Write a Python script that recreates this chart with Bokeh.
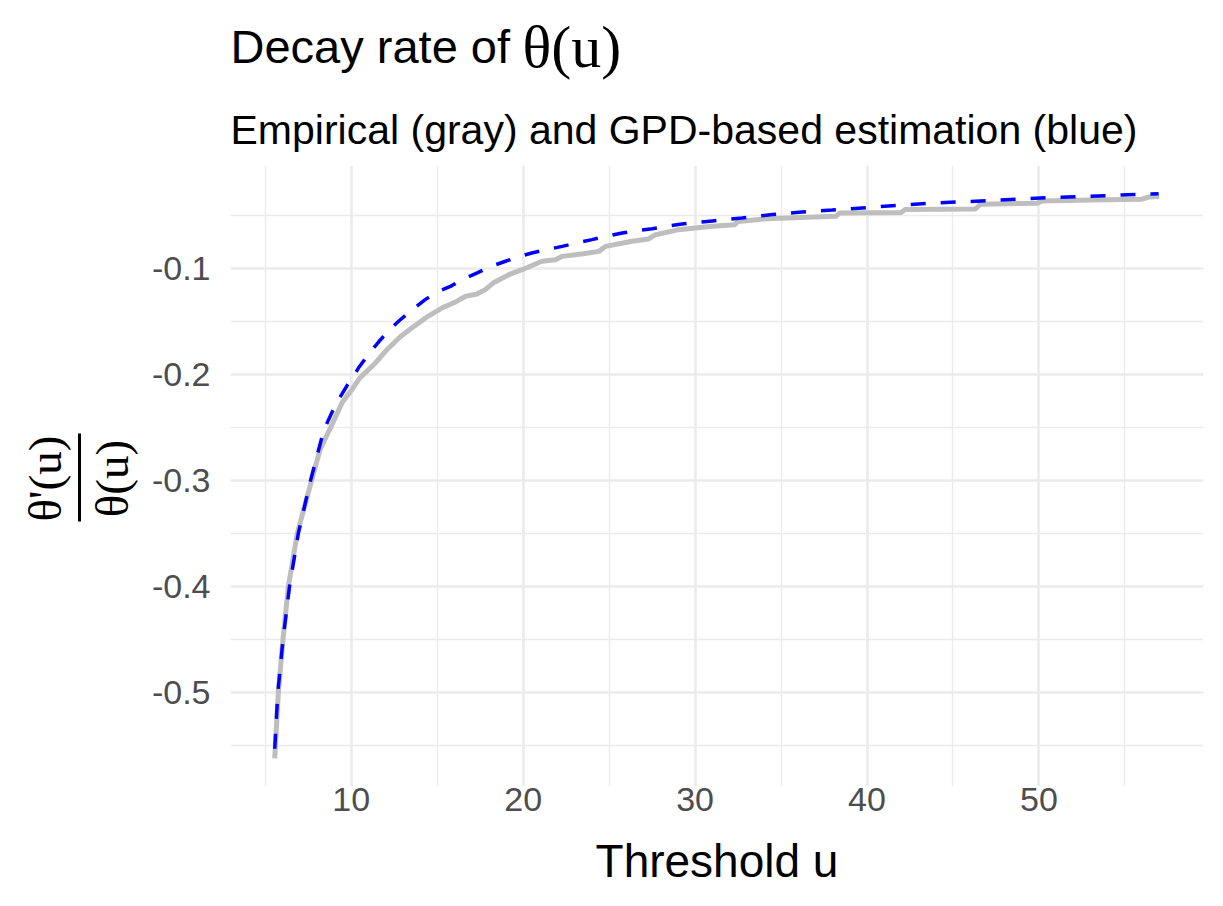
import numpy as np
from bokeh.plotting import figure
from bokeh.layouts import column, row
from bokeh.models import Range1d, FixedTicker, PrintfTickFormatter
from bokeh.core.properties import value
from bokeh.embed import file_html
from bokeh.resources import INLINE

# ---- data ----
gpd_u = [5.55, 5.73, 6.03, 6.41, 6.92, 7.63, 8.41, 9.1, 9.77, 10.15, 10.45, 11.0, 11.6,
         12.2, 12.87, 13.6, 14.32, 15.0, 15.77, 16.5, 17.33, 18.1, 18.97, 19.7, 20.5,
         21.4, 22.27, 23.1, 24.0, 24.9, 25.76, 26.6, 27.5, 28.4, 29.24, 31.0, 32.73,
         34.5, 36.2, 37.97, 40.5, 42.2, 43.97, 45.7, 47.46, 49.2, 50.95, 52.7, 54.4,
         56.96]
gpd_rate = [-0.553, -0.500, -0.450, -0.400, -0.350, -0.300, -0.252, -0.228, -0.210,
            -0.201, -0.193, -0.181, -0.169, -0.158, -0.148, -0.138, -0.129, -0.122,
            -0.1167, -0.110, -0.104, -0.098, -0.093, -0.089, -0.0852, -0.082, -0.079,
            -0.0758, -0.0726, -0.0693, -0.0663, -0.0642, -0.0623, -0.060, -0.0578,
            -0.0550, -0.0522, -0.0490, -0.0465, -0.0446, -0.0418, -0.0399, -0.0380,
            -0.0368, -0.0356, -0.0340, -0.0327, -0.0318, -0.0308, -0.0293]

emp_u = [5.55, 5.76, 6.03, 6.34, 6.86, 7.69, 8.2, 8.8, 9.48, 10.0, 10.5, 11.41, 12.1,
         12.87, 13.6, 14.32, 15.29, 16.0, 16.65, 17.3, 17.8, 18.3, 19.17, 19.94, 21.1,
         21.88, 22.27, 23.5, 24.4, 24.79, 26.34, 27.3, 27.7, 29.05, 30.0, 31.0, 32.3,
         32.5, 34.1, 38.2, 38.4, 42.0, 42.2, 46.3, 46.6, 49.9, 50.2, 53.0, 56.0, 56.4,
         57.0]
emp_rate = [-0.562, -0.500, -0.450, -0.400, -0.350, -0.300, -0.270, -0.250, -0.226,
            -0.215, -0.203, -0.189, -0.176, -0.164, -0.155, -0.1465, -0.137, -0.132,
            -0.126, -0.124, -0.1198, -0.113, -0.1057, -0.101, -0.093, -0.0915, -0.0884,
            -0.086, -0.0837, -0.079, -0.0742, -0.072, -0.068, -0.0632, -0.0616, -0.060,
            -0.0585, -0.0554, -0.053, -0.0506, -0.0474, -0.0469, -0.0443, -0.0437,
            -0.0392, -0.0382, -0.0362, -0.0352, -0.0344, -0.0324, -0.0320]

x_ticks = [10, 20, 30, 40, 50]
x_minor = [5, 15, 25, 35, 45, 55]
y_ticks = [-0.5, -0.4, -0.3, -0.2, -0.1]
y_minor = [-0.55, -0.45, -0.35, -0.25, -0.15, -0.05]

title_text = "Decay rate of"
title_math = "θ(u)"
subtitle_text = "Empirical (gray) and GPD-based estimation (blue)"
x_label = "Threshold u"
y_num = "θ'(u)"
y_den = "θ(u)"

# ---- page layout (pixels) ----
W, H = 1215, 898
TOP_H = 160          # header strip (title + subtitle)
LEFT_W = 140         # strip holding the y-axis fraction label
MAIN_W = W - LEFT_W
MAIN_H = H - TOP_H
FRAME_L, FRAME_R, FRAME_T, FRAME_B = 230, 1203, 165, 786


def blank(width, height, xr, yr):
    f = figure(width=width, height=height, output_backend="svg", toolbar_location=None,
               x_range=xr, y_range=yr, min_border=0)
    f.title = None
    f.axis.visible = False
    f.grid.visible = False
    f.outline_line_color = None
    return f


# header: title and subtitle
top = blank(W, TOP_H, Range1d(0, W), Range1d(TOP_H, 0))
top.text(x=[FRAME_L], y=[46], text=[title_text], text_font=value("Liberation Sans"),
         text_font_size="47px", text_color="black", text_align="left",
         text_baseline="alphabetic")
top.text(x=[522], y=[46], text=[title_math], text_font=value("Liberation Serif"),
         text_font_size="60px", text_color="black", text_align="left",
         text_baseline="alphabetic")
top.text(x=[FRAME_L], y=[129], text=[subtitle_text], text_font=value("Liberation Sans"),
         text_font_size="41px", text_color="black", text_align="left",
         text_baseline="alphabetic")

# left strip: rotated fraction theta'(u) / theta(u)
# (its frame is aligned with the main panel's frame, so its y range is the panel's pixel span)
left = blank(LEFT_W, MAIN_H, Range1d(0, LEFT_W), Range1d(FRAME_B, FRAME_T))
left.text(x=[44], y=[478], text=[y_num], angle=np.pi / 2,
          text_font=value("Liberation Serif"), text_font_size="47px",
          text_color="black", text_align="center", text_baseline="middle")
left.text(x=[111], y=[478], text=[y_den], angle=np.pi / 2,
          text_font=value("Liberation Serif"), text_font_size="47px",
          text_color="black", text_align="center", text_baseline="middle")
left.segment(x0=[79], y0=[433], x1=[79], y1=[521], line_color="black", line_width=3)

# main panel
all_u = gpd_u + emp_u
all_r = gpd_rate + emp_rate
xpad = 0.05 * (max(all_u) - min(all_u))
ypad = 0.05 * (max(all_r) - min(all_r))

p = figure(width=MAIN_W, height=MAIN_H, output_backend="svg", toolbar_location=None,
           x_range=Range1d(min(all_u) - xpad, max(all_u) + xpad),
           y_range=Range1d(min(all_r) - ypad, max(all_r) + ypad),
           min_border_left=FRAME_L - LEFT_W, min_border_right=W - FRAME_R,
           min_border_top=FRAME_T - TOP_H, min_border_bottom=H - FRAME_B)
p.title = None
p.outline_line_color = None
p.background_fill_color = "white"
p.border_fill_color = "white"

p.xaxis.ticker = FixedTicker(ticks=x_ticks, minor_ticks=x_minor)
p.yaxis.ticker = FixedTicker(ticks=y_ticks, minor_ticks=y_minor)
p.xaxis.formatter = PrintfTickFormatter(format="%d")
p.yaxis.formatter = PrintfTickFormatter(format="%.1f")

for ax in (p.xaxis, p.yaxis):
    ax.axis_line_color = None
    ax.major_tick_line_color = None
    ax.minor_tick_line_color = None
    ax.major_tick_out = 0
    ax.major_tick_in = 0
    ax.minor_tick_out = 0
    ax.minor_tick_in = 0
    ax.major_label_text_font = "Liberation Sans"
    ax.major_label_text_font_size = "34px"
    ax.major_label_text_color = "#4D4D4D"

p.xaxis.major_label_standoff = 1
p.yaxis.major_label_standoff = 20
p.xaxis.axis_label = x_label
p.xaxis.axis_label_text_font = "Liberation Sans"
p.xaxis.axis_label_text_font_size = "46px"
p.xaxis.axis_label_text_font_style = "normal"
p.xaxis.axis_label_text_color = "black"
p.xaxis.axis_label_standoff = 21

for g in (p.xgrid, p.ygrid):
    g.grid_line_color = "#EBEBEB"
    g.grid_line_width = 2.6
    g.minor_grid_line_color = "#EBEBEB"
    g.minor_grid_line_width = 1.4

p.line(emp_u, emp_rate, line_color="#BEBEBE", line_width=5, line_join="round")
p.line(gpd_u, gpd_rate, line_color="#0000FF", line_width=3.5, line_dash="15 15")

layout = column(top, row(left, p, spacing=0), spacing=0)
open("out.html", "w").write(file_html(layout, INLINE))
